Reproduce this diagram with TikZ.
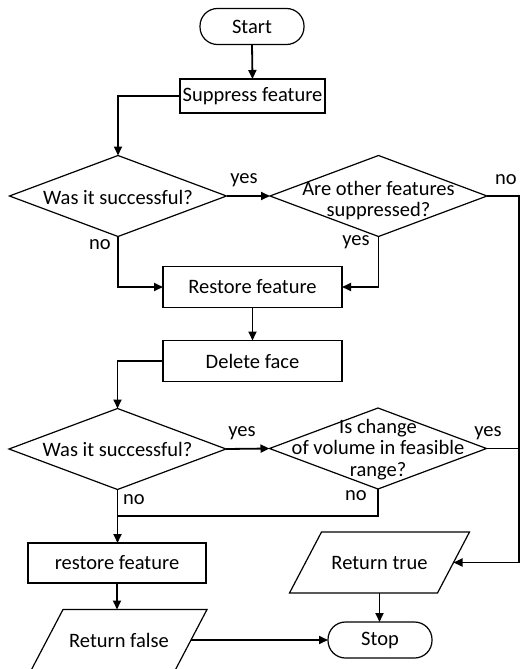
\documentclass[tikz,border=0pt]{standalone}
\usepackage{fontspec}
\setmainfont{Carlito}
\usetikzlibrary{shapes.geometric,arrows.meta,calc}
\begin{document}
\begin{tikzpicture}[x=1pt,y=-1pt,
  font=\fontsize{20.5}{21.5}\selectfont,
  shp/.style={draw, line width=1.2pt, inner sep=0pt, outer sep=0pt},
  term/.style={shp, rectangle, rounded corners=17.5pt, minimum width=104pt, minimum height=36pt},
  proc/.style={shp, rectangle, minimum width=179pt, minimum height=41pt},
  dec/.style={shp, diamond, minimum width=217pt, minimum height=81pt},
  io/.style={rectangle, inner sep=0pt, outer sep=0pt, minimum width=146pt, minimum height=61pt},
  txt/.style={align=center, inner sep=0pt},
  lbl/.style={inner sep=0pt},
  conn/.style={line width=1.8pt, -{Triangle[length=9pt,width=8pt]}},
  plain/.style={line width=1.8pt},
  iobord/.style={line width=1.2pt},
]
\useasboundingbox (0,0) rectangle (520,669);

% nodes
\node[term] (start) at (252,26.5) {Start};
\node[shp, rectangle, minimum width=145pt, minimum height=34pt] (sup) at (252.5,96) {Suppress feature};
\node[dec] (d1) at (118,196) {};
\node[txt] (t1) at (118,197) {Was it successful?};
\node[dec] (d2) at (378.5,196) {};
\node[txt] (t2) at (378.5,200.5) {Are other features\\suppressed?};
\node[proc] (rest) at (252.5,287) {Restore feature};
\node[proc] (del) at (252.5,361) {Delete face};
\node[dec] (d3) at (117.5,449) {};
\node[txt] (t3) at (117.5,449) {Was it successful?};
\node[dec] (d4) at (378,448.5) {};
\node[txt] (t4) at (378,449.5) {Is change\\of volume in feasible\\range?};
\node[proc, minimum width=178pt, minimum height=40pt] (rest2) at (117,563) {restore feature};
\node[io, minimum width=144pt] (rf) at (119,640) {Return false};
\node[io, minimum width=148pt] (rt) at (379.5,562.5) {Return true};
\node[term] (stop) at (380,640) {Stop};

% parallelogram outlines
\draw[iobord] ([xshift=16pt]rt.north west) -- ([xshift=16pt]rt.north east) -- ([xshift=-16pt]rt.south east) -- ([xshift=-16pt]rt.south west) -- cycle;
\draw[iobord] ([xshift=16pt]rf.north west) -- ([xshift=16pt]rf.north east) -- ([xshift=-16pt]rf.south east) -- ([xshift=-16pt]rf.south west) -- cycle;

% helper coordinates
\coordinate (rc) at (519,196);
\coordinate (j) at (117.5,516);

% connectors
\draw[conn] (start.south) -- (sup.north);
\draw[conn] (sup.west) -| (d1.north);
\draw[conn] (d1.east) -- (d2.west);
\draw[conn] (d1.south) |- (rest.west);
\draw[conn] (d2.south) |- (rest.east);
\draw[conn] (rest.south) -- (del.north);
\draw[conn] (del.west) -| (d3.north);
\draw[conn] (d3.east) -- (d4.west);
\draw[conn] (d3.south) -- (d3.south |- rest2.north);
\draw[plain] (d4.south) |- (j);
\draw[conn] (d2.east) -- (rc) |- (rt.east);
\draw[plain] (d4.east) -- (d4.east -| rc);
\draw[conn] (rt.south) -- (rt.south |- stop.north);
\draw[conn] (rest2.south) -- (rest2.south |- rf.north);
\draw[conn] (rf.east) -- (stop.west);

% labels
\node[lbl] (l1) at (244,180) {yes};
\node[lbl] (l2) at (506,180) {no};
\node[lbl] (l3) at (100,245) {no};
\node[lbl] (l4) at (356,242) {yes};
\node[lbl] (l5) at (242,433) {yes};
\node[lbl] (l6) at (488,433) {yes};
\node[lbl] (l7) at (134,500) {no};
\node[lbl] (l8) at (356,496) {no};
\end{tikzpicture}
\end{document}
